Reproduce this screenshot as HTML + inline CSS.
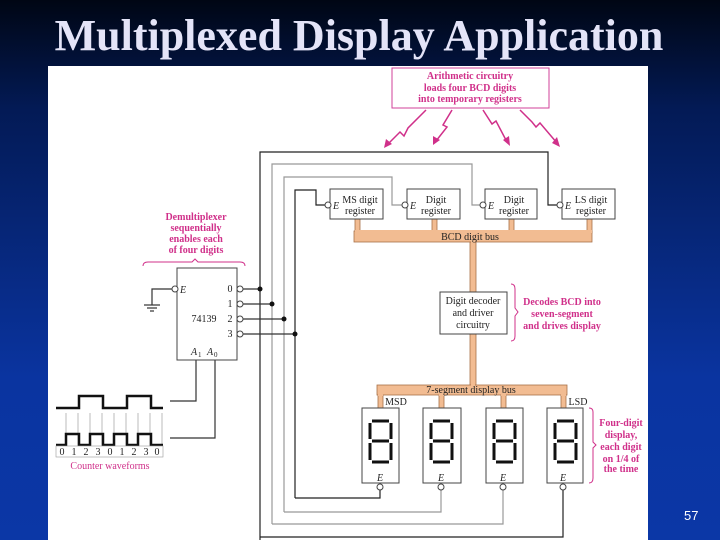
<!DOCTYPE html>
<html><head><meta charset="utf-8"><style>
html,body{margin:0;padding:0}
body{width:720px;height:540px;overflow:hidden;background:linear-gradient(180deg,#000614 0%,#031a55 20%,#0a34a0 70%,#0b37a6 100%);position:relative;font-family:"Liberation Serif",serif}
.t{position:absolute;left:0;width:718px;top:10px;text-align:center;color:#e4e4f8;font-weight:bold;font-size:44px;letter-spacing:0px}
.n{position:absolute;left:684px;top:508px;color:#fff;font-family:"Liberation Sans",sans-serif;font-size:13px}
svg{position:absolute;left:0;top:0}
</style></head><body>
<div class="t">Multiplexed Display Application</div>
<svg width="720" height="540" viewBox="0 0 720 540" font-family="Liberation Serif, serif">
<rect x="48" y="66" width="600" height="474" fill="#fff"/>
<rect x="392" y="68" width="157" height="40" fill="#fff" stroke="#d0409a" stroke-width="1"/>
<g fill="#d0308a" font-size="10" font-weight="bold" text-anchor="middle">
<text x="470" y="79">Arithmetic circuitry</text>
<text x="470" y="91">loads four BCD digits</text>
<text x="470" y="102">into temporary registers</text>
<text x="196" y="220">Demultiplexer</text>
<text x="196" y="231">sequentially</text>
<text x="196" y="242">enables each</text>
<text x="196" y="253">of four digits</text>
<text x="562" y="305">Decodes BCD into</text>
<text x="562" y="317">seven-segment</text>
<text x="562" y="329">and drives display</text>
<text x="621" y="426">Four-digit</text>
<text x="621" y="438">display,</text>
<text x="621" y="450">each digit</text>
<text x="621" y="462">on 1/4 of</text>
<text x="621" y="472">the time</text>
</g>
<text x="110" y="469" fill="#d0308a" font-size="10" text-anchor="middle">Counter waveforms</text>
<g stroke="#d0308a" stroke-width="1.5" fill="none">
<polyline points="426,110 408,128 404,136 400,132 387,145"/>
<polyline points="452,110 443,125 447,127 436,141"/>
<polyline points="483,110 492,124 496,121 507,142"/>
<polyline points="520,110 532,122 536,127 540,123 557,143"/>
</g>
<g fill="#d0308a">
<polygon points="384,148 386,139 392,144"/>
<polygon points="433,145 433,136 440,140"/>
<polygon points="510,146 503,140 509,136"/>
<polygon points="560,147 552,143 557,137"/>
</g>
<g stroke="#d0308a" stroke-width="1" fill="none">
<path d="M143,266 Q143,262 148,262 L192,262 L195,259 L198,262 L240,262 Q245,262 245,266"/>
<path d="M511,284 Q515,284 515,289 L515,308 L518,312 L515,316 L515,336 Q515,341 511,341"/>
<path d="M589,408 Q593,408 593,412 L593,442 L596,445 L593,448 L593,478 Q593,483 589,483"/>
</g>
<g fill="none" stroke-width="1.2">
<polyline stroke="#222" points="260,540 260,537 260,152 548,152 548,205 557,205"/>
<polyline stroke="#999" points="272,524 272,164 472,164 472,205 480,205"/>
<polyline stroke="#999" points="284,512 284,177 392,177 392,205 402,205"/>
<polyline stroke="#222" points="295,498 295,190 316,190 316,205 325,205"/>
<polyline stroke="#222" points="260,537 563,537 563,490"/>
<polyline stroke="#999" points="272,524 503,524 503,490"/>
<polyline stroke="#999" points="284,512 441,512 441,490"/>
<polyline stroke="#222" points="295,498 380,498 380,490"/>
<line stroke="#333" x1="241" y1="289" x2="260" y2="289"/>
<line stroke="#333" x1="241" y1="304" x2="272" y2="304"/>
<line stroke="#333" x1="241" y1="319" x2="284" y2="319"/>
<line stroke="#333" x1="241" y1="334" x2="295" y2="334"/>
<polyline stroke="#333" points="172,289 152,289 152,305"/>
<line stroke="#333" x1="144" y1="305" x2="160" y2="305"/>
<line stroke="#333" x1="147" y1="308" x2="157" y2="308"/>
<line stroke="#333" x1="150" y1="311" x2="154" y2="311"/>
<polyline stroke="#333" points="196,360 196,401 170,401"/>
<polyline stroke="#333" points="215,360 215,438 170,438"/>
</g>
<g fill="#111"><circle cx="260" cy="289" r="2.5"/><circle cx="272" cy="304" r="2.5"/><circle cx="284" cy="319" r="2.5"/><circle cx="295" cy="334" r="2.5"/></g>
<!-- buses -->
<g fill="#f2bc92" stroke="#a87048" stroke-width="0.8">
<rect x="355" y="219" width="5" height="14"/>
<rect x="432" y="219" width="5" height="14"/>
<rect x="509" y="219" width="5" height="14"/>
<rect x="587" y="219" width="5" height="14"/>
<rect x="354" y="231" width="238" height="11"/>
<rect x="470" y="242" width="6" height="50"/>
<rect x="470" y="334" width="6" height="52"/>
<rect x="377" y="385" width="190" height="10"/>
<rect x="378" y="395" width="5" height="13"/>
<rect x="439" y="395" width="5" height="13"/>
<rect x="501" y="395" width="5" height="13"/>
<rect x="561" y="395" width="5" height="13"/>
</g>
<g fill="#f2bc92">
<rect x="355" y="230" width="237" height="3"/>
<rect x="471" y="240" width="4" height="4"/>
<rect x="471" y="384" width="4" height="3"/>
<rect x="378" y="393" width="5" height="3"/><rect x="439" y="393" width="5" height="3"/><rect x="501" y="393" width="5" height="3"/><rect x="561" y="393" width="5" height="3"/>
</g>
<g fill="#fff" stroke="#444" stroke-width="1">
<rect x="330" y="189" width="53" height="30"/><rect x="407" y="189" width="53" height="30"/>
<rect x="485" y="189" width="52" height="30"/><rect x="562" y="189" width="53" height="30"/>
<rect x="440" y="292" width="67" height="42"/>
<rect x="177" y="268" width="60" height="92"/>
<rect x="362" y="408" width="37" height="75"/><rect x="423" y="408" width="38" height="75"/>
<rect x="486" y="408" width="37" height="75"/><rect x="547" y="408" width="36" height="75"/>
</g>
<g fill="#fff" stroke="#444" stroke-width="1">
<circle cx="328" cy="205" r="3"/><circle cx="405" cy="205" r="3"/><circle cx="483" cy="205" r="3"/><circle cx="560" cy="205" r="3"/>
<circle cx="175" cy="289" r="3"/>
<circle cx="240" cy="289" r="3"/><circle cx="240" cy="304" r="3"/><circle cx="240" cy="319" r="3"/><circle cx="240" cy="334" r="3"/>
<circle cx="380" cy="487" r="3"/><circle cx="441" cy="487" r="3"/><circle cx="503" cy="487" r="3"/><circle cx="563" cy="487" r="3"/>
</g>
<g fill="#222" font-size="10" text-anchor="middle">
<text x="360" y="203">MS digit</text><text x="360" y="214">register</text>
<text x="436" y="203">Digit</text><text x="436" y="214">register</text>
<text x="514" y="203">Digit</text><text x="514" y="214">register</text>
<text x="591" y="203">LS digit</text><text x="591" y="214">register</text>
<text x="473" y="304">Digit decoder</text><text x="473" y="316">and driver</text><text x="473" y="328">circuitry</text>
<text x="470" y="240">BCD digit bus</text>
<text x="471" y="393">7-segment display bus</text>
<text x="396" y="405">MSD</text><text x="578" y="405">LSD</text>
<text x="204" y="322">74139</text>
<text x="230" y="292">0</text><text x="230" y="307">1</text><text x="230" y="322">2</text><text x="230" y="337">3</text>
</g>
<g fill="#222" font-size="10" font-style="italic">
<text x="333" y="209">E</text><text x="410" y="209">E</text><text x="488" y="209">E</text><text x="565" y="209">E</text>
<text x="180" y="293">E</text>
<text x="191" y="355">A</text><text x="198" y="357" font-size="7" font-style="normal">1</text>
<text x="207" y="355">A</text><text x="214" y="357" font-size="7" font-style="normal">0</text>
<text x="377" y="481">E</text><text x="438" y="481">E</text><text x="500" y="481">E</text><text x="560" y="481">E</text>
</g>
<g fill="none" stroke="#111" stroke-width="3" stroke-linecap="butt">
<g id="d"><path d="M372,421 h17 M370,423 v16 M391,423 v16 M372,441 h17 M370,443 v17 M391,443 v17 M372,462 h17"/></g>
<use href="#d" x="61"/><use href="#d" x="124"/><use href="#d" x="185"/>
</g>
<g stroke="#bbb" stroke-width="1">
<line x1="66" y1="413" x2="66" y2="446"/><line x1="78" y1="413" x2="78" y2="446"/><line x1="90" y1="413" x2="90" y2="446"/><line x1="102" y1="413" x2="102" y2="446"/><line x1="114" y1="413" x2="114" y2="446"/><line x1="126" y1="413" x2="126" y2="446"/><line x1="138" y1="413" x2="138" y2="446"/><line x1="150" y1="413" x2="150" y2="446"/><line x1="162" y1="413" x2="162" y2="446"/>
</g>
<g fill="none" stroke="#111" stroke-width="2.5">
<polyline points="56,408 79,408 79,396 103,396 103,408 127,408 127,396 151,396 151,408 163,408"/>
<polyline points="56,445 66,445 66,434 79,434 79,445 90,445 90,434 103,434 103,445 114,445 114,434 127,434 127,445 138,445 138,434 151,434 151,445 163,445"/>
</g>
<rect x="56" y="446" width="107" height="11" fill="#fff" stroke="#999" stroke-width="0.6"/>
<g fill="#222" font-size="10" text-anchor="middle">
<text x="62" y="455">0</text><text x="74" y="455">1</text><text x="86" y="455">2</text><text x="98" y="455">3</text><text x="110" y="455">0</text><text x="122" y="455">1</text><text x="134" y="455">2</text><text x="146" y="455">3</text><text x="157" y="455">0</text>
</g>
</svg>
<div class="n">57</div>
</body></html>
